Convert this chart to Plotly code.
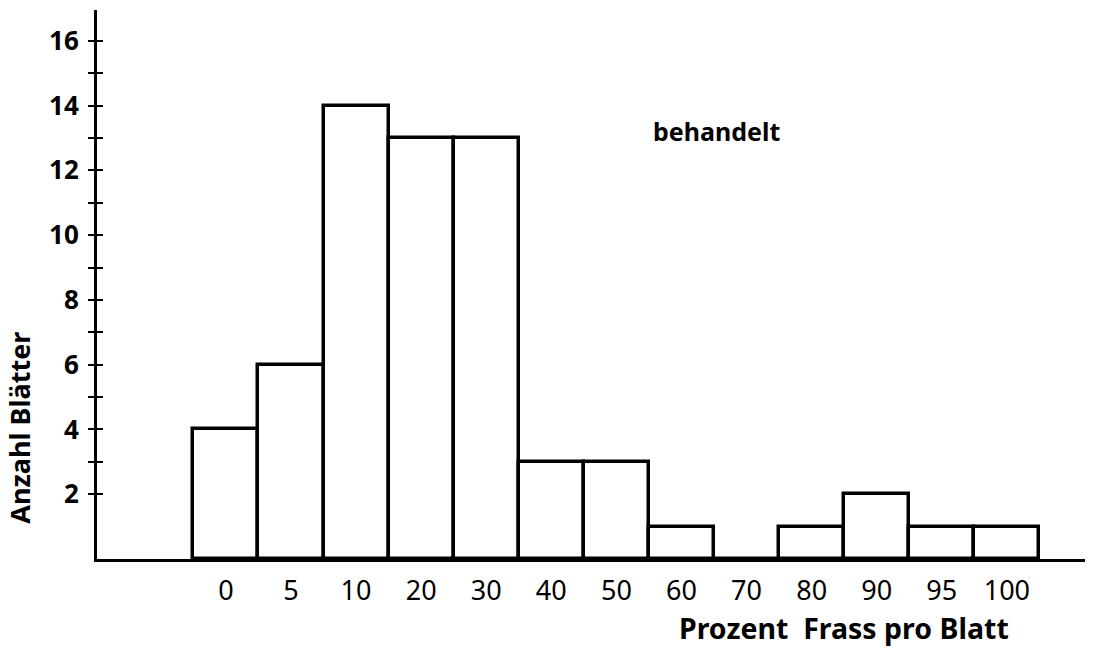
import plotly.graph_objects as go

categories = ["0", "5", "10", "20", "30", "40", "50", "60", "70", "80", "90", "95", "100"]
counts = [4, 6, 14, 13, 13, 3, 3, 1, 0, 1, 2, 1, 1]
major_ticks = [2, 4, 6, 8, 10, 12, 14, 16]
minor_ticks = [3, 5, 7, 9, 11, 13, 15]

FONT = "Noto Sans"

fig = go.Figure()
fig.add_trace(go.Bar(
    x=categories, y=counts,
    marker=dict(color="white", line=dict(color="black", width=3.5)),
    width=1.0,
    showlegend=False,
))
fig.add_trace(go.Scatter(x=[categories[0]], y=[0], yaxis="y2", mode="markers",
                         marker=dict(opacity=0), showlegend=False, hoverinfo="skip"))

yrange = [0, 16.95]
fig.update_layout(
    width=1101, height=647,
    margin=dict(l=97, r=16, t=10, b=88),
    paper_bgcolor="white", plot_bgcolor="white",
    bargap=0,
    font=dict(family=FONT, color="black"),
    xaxis=dict(
        type="category", categoryorder="array", categoryarray=categories,
        range=[-1.98, 13.2], automargin=False,
        showline=True, linecolor="black", linewidth=3,
        ticks="", showgrid=False, zeroline=False,
        tickfont=dict(family=FONT, size=27, color="black"),
        ticklabelstandoff=6,
    ),
    yaxis=dict(
        range=yrange, automargin=False,
        showline=True, linecolor="black", linewidth=3,
        tickmode="array", tickvals=major_ticks,
        ticks="outside", ticklen=6, tickwidth=2, tickcolor="black",
        minor=dict(tickmode="array", tickvals=minor_ticks, ticks="outside",
                   ticklen=6, tickwidth=2, tickcolor="black"),
        showgrid=False, zeroline=False,
        tickfont=dict(family=FONT, size=26, color="black", weight="bold"),
        ticklabelstandoff=4,
    ),
    yaxis2=dict(
        range=yrange, overlaying="y", side="left", automargin=False,
        showline=False, showticklabels=False,
        tickmode="array", tickvals=major_ticks,
        ticks="inside", ticklen=6, tickwidth=2, tickcolor="black",
        minor=dict(tickmode="array", tickvals=minor_ticks, ticks="inside",
                   ticklen=6, tickwidth=2, tickcolor="black"),
        showgrid=False, zeroline=False,
    ),
    annotations=[
        dict(text="Anzahl Blätter", xref="paper", yref="paper", x=-0.078, y=0.239,
             xanchor="center", yanchor="middle", textangle=-90, showarrow=False,
             font=dict(family=FONT, size=27, weight="bold", color="black")),
        dict(text="behandelt", xref="paper", yref="paper", x=0.561, y=0.78,
             xanchor="left", yanchor="middle", showarrow=False,
             font=dict(family=FONT, size=25, weight="bold", color="black")),
        dict(text="Prozent  Frass pro Blatt", xref="paper", yref="paper", x=0.5875, y=-0.125,
             xanchor="left", yanchor="middle", showarrow=False,
             font=dict(family=FONT, size=28.5, weight="bold", color="black")),
    ],
)

fig.write_html("out.html", config={"displayModeBar": False},
               post_script="document.body.style.margin='0';")
